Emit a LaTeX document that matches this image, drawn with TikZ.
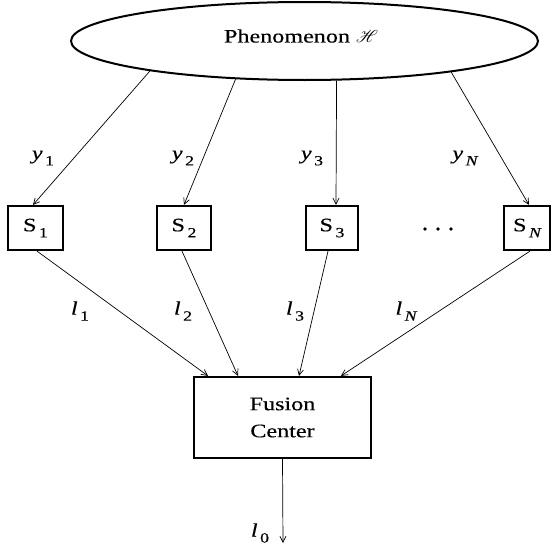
\documentclass[tikz,border=0pt]{standalone}
\usepackage{fontspec}
\setmainfont[FakeStretch=1.27,FakeBold=0.3]{Liberation Serif}
\usepackage{mathrsfs}
\usetikzlibrary{shapes.geometric,arrows.meta}
\newcommand\withsub[2]{#1\hspace{2.5pt}\raisebox{-6pt}{\fontsize{14}{14}\selectfont\upshape #2}}
\begin{document}
\begin{tikzpicture}[x=1pt,y=-1pt,
  box/.style={draw,line width=2.2pt,inner sep=0pt,font=\fontsize{19}{23}\selectfont},
  conn/.style={line width=0.7pt,-{Straight Barb[length=6pt,width=6pt]}},
  lab/.style={inner sep=0pt,font=\fontsize{19}{23}\selectfont\itshape},
  dot/.style={fill,circle,inner sep=0pt,minimum size=3.8pt}]
\useasboundingbox (0,0) rectangle (552,546);
% phenomenon
\node[ellipse,draw,line width=2pt,minimum width=467pt,minimum height=78pt,inner sep=0pt] (ph) at (304.5,41) {};
\node[inner sep=0pt,font=\fontsize{19}{23}\selectfont] (pht) at (301,36) {Phenomenon $\mathscr{H}$};
% sensors
\node[box,minimum width=55pt,minimum height=44pt] (s1) at (35.5,228) {\withsub{S}{1}};
\node[box,minimum width=54pt,minimum height=44pt] (s2) at (184,228) {\withsub{S}{2}};
\node[box,minimum width=52pt,minimum height=44pt] (s3) at (332,228) {\withsub{S}{3}};
\node[box,minimum width=46pt,minimum height=44pt] (sn) at (527,228) {\withsub{S}{\itshape N}};
\node[dot] (d1) at (425,229) {};
\node[dot] (d2) at (438,229) {};
\node[dot] (d3) at (451,229) {};
% fusion center
\node[box,minimum width=177pt,minimum height=81pt,align=center,font=\fontsize{19}{27}\selectfont] (fc) at (282.5,417.5) {Fusion\\Center};
\coordinate (out) at (283,543);
% observations
\draw[conn] (ph.-169.9) -- ([xshift=-2.5pt]s1.north);
\draw[conn] (ph.-151) -- (s2.north);
\draw[conn] (ph.-51.1) -- ([xshift=4pt]s3.north);
\draw[conn] (ph.-12.2) -- ([xshift=2pt]sn.north);
% local decisions
\draw[conn] ([xshift=1.5pt]s1.south) -- ([xshift=-74.5pt]fc.north);
\draw[conn] ([xshift=-2pt]s2.south) -- ([xshift=-44.5pt]fc.north);
\draw[conn] ([xshift=-4pt]s3.south) -- ([xshift=16.5pt]fc.north);
\draw[conn] ([xshift=3pt]sn.south) -- ([xshift=58.5pt]fc.north);
\draw[conn] (fc.south) -- (out);
% labels
\node[lab] (ly1) at (43,158) {\withsub{y}{1}};
\node[lab] (ly2) at (183,158) {\withsub{y}{2}};
\node[lab] (ly3) at (312,158) {\withsub{y}{3}};
\node[lab] (lyn) at (465,158) {\withsub{y}{\itshape N}};
\node[lab] (ll1) at (80,311) {\withsub{l}{1}};
\node[lab] (ll2) at (183,311) {\withsub{l}{2}};
\node[lab] (ll3) at (295,311) {\withsub{l}{3}};
\node[lab] (lln) at (406,311) {\withsub{l}{\itshape N}};
\node[lab] (ll0) at (260,533) {\withsub{l}{0}};
\end{tikzpicture}
\end{document}
